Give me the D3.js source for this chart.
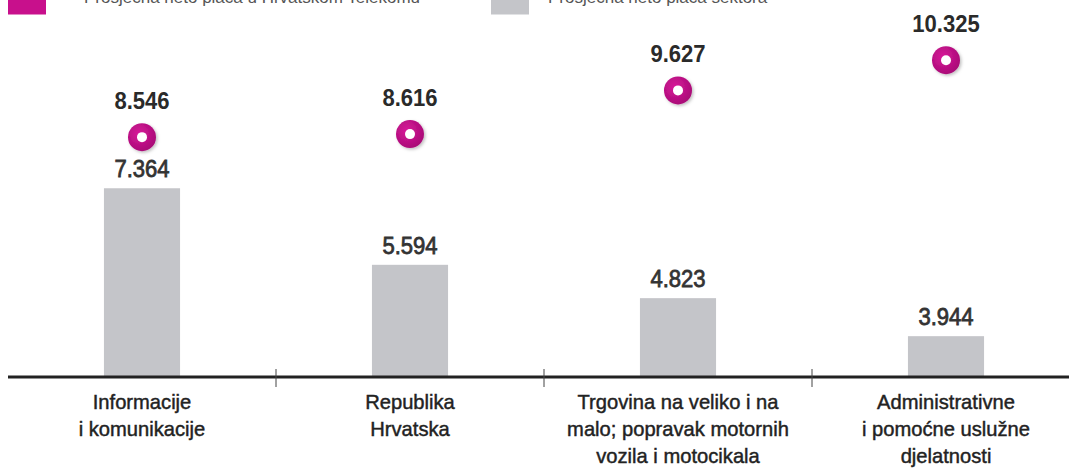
<!DOCTYPE html>
<html>
<head>
<meta charset="utf-8">
<script src="https://cdn.jsdelivr.net/npm/d3@7"></script>
<style>
  body { margin: 0; background: #fff; }
  svg { display: block; }
  text { font-family: "Liberation Sans", Arial, Helvetica, sans-serif; }
</style>
</head>
<body>
<div id="chart"></div>
<script>
var W = 1069, H = 468;

// data (thousands of HRK, shown with dot as thousands separator)
var categories = ["Informacije i komunikacije", "Republika Hrvatska", "Trgovina na veliko i na malo", "Administrativne i pomoćne uslužne djelatnosti"];
var categoryLines = [
  ["Informacije", "i  komunikacije"],
  ["Republika", "Hrvatska"],
  ["Trgovina na veliko i na", "malo; popravak motornih", "vozila i motocikala"],
  ["Administrativne", "i pomoćne uslužne", "djelatnosti"]
];
var htValues = [8.546, 8.616, 9.627, 10.325];
var sectorValues = [7.364, 5.594, 4.823, 3.944];
var legendLabels = ["Prosječna neto plaća u Hrvatskom Telekomu", "Prosječna neto plaća sektora"];

var magenta = "#c8108c", grey = "#c4c5c9";

var svg = d3.select("#chart").append("svg")
  .attr("width", W)
  .attr("height", H);

var defs = svg.append("defs");
var grad = defs.append("radialGradient")
  .attr("id", "ring")
  .attr("cx", "40%").attr("cy", "38%").attr("r", "65%");
grad.append("stop").attr("offset", "0%").attr("stop-color", "#d81a9a");
grad.append("stop").attr("offset", "100%").attr("stop-color", "#a80a76");
var shadow = defs.append("filter").attr("id", "shadow")
  .attr("x", "-40%").attr("y", "-40%").attr("width", "180%").attr("height", "180%");
shadow.append("feDropShadow")
  .attr("dx", 1.5).attr("dy", 1.5).attr("stdDeviation", 1.5)
  .attr("flood-color", "#000").attr("flood-opacity", 0.25);

// scales
var x = d3.scaleBand()
  .domain(categories)
  .range([8, 1080])
  .padding(0);

var y = d3.scaleLinear()
  .domain([3, 11])
  .range([377, 31]);

var barW = x.bandwidth() * 0.284;
var fmt = d3.format(".3f");
function cx(i) { return x(categories[i]) + x.bandwidth() / 2; }

// legend (cut off at top)
var legend = svg.append("g");
legend.append("rect").attr("x", 8).attr("y", -6).attr("width", 38).attr("height", 20.5).attr("fill", magenta);
legend.append("rect").attr("x", 491).attr("y", -6).attr("width", 38).attr("height", 20.5).attr("fill", grey);
legend.selectAll("text.leg")
  .data(legendLabels)
  .enter().append("text")
  .attr("class", "leg")
  .attr("x", function(d, i) { return i == 0 ? 84 : 548; })
  .attr("y", 3)
  .attr("font-size", "17px")
  .attr("fill", "#555")
  .text(function(d) { return d; });

// bars
svg.selectAll(".bar")
  .data(sectorValues)
  .enter().append("rect")
  .attr("class", "bar")
  .attr("x", function(d, i) { return cx(i) - barW / 2; })
  .attr("y", function(d) { return y(d); })
  .attr("width", barW)
  .attr("height", function(d) { return y.range()[0] - y(d); })
  .attr("fill", grey);

svg.selectAll(".barlabel")
  .data(sectorValues)
  .enter().append("g")
  .attr("class", "barlabel")
  .attr("transform", function(d, i) { return "translate(" + cx(i) + "," + (y(d) - 11) + ") scale(0.92,1)"; })
  .append("text")
  .attr("text-anchor", "middle")
  .attr("font-size", "24px")
  .attr("fill", "#333")
  .attr("stroke", "#333")
  .attr("stroke-width", 0.8);

svg.selectAll(".barlabel text")
  .text(function(d) { return fmt(d); });

// axis
svg.append("line")
  .attr("x1", x.range()[0]).attr("x2", W)
  .attr("y1", y.range()[0]).attr("y2", y.range()[0])
  .attr("stroke", "#222")
  .attr("stroke-width", 3);

svg.selectAll(".tick")
  .data(categories.slice(1))
  .enter().append("line")
  .attr("class", "tick")
  .attr("x1", function(d) { return x(d); })
  .attr("x2", function(d) { return x(d); })
  .attr("y1", y.range()[0] - 8)
  .attr("y2", y.range()[0] + 10)
  .attr("stroke", "#444")
  .attr("stroke-width", 1);

var cat = svg.selectAll(".cat")
  .data(categories)
  .enter().append("g")
  .attr("class", "cat")
  .attr("transform", function(d, i) { return "translate(" + cx(i) + ",0) scale(0.96,1)"; })
  .append("text")
  .attr("text-anchor", "middle")
  .attr("font-size", "21px")
  .attr("fill", "#222")
  .attr("stroke", "#222")
  .attr("stroke-width", 0.45);

cat.selectAll("tspan")
  .data(function(d, i) { return categoryLines[i]; })
  .enter().append("tspan")
  .attr("x", 0)
  .attr("y", function(d, j) { return 409 + j * 27; })
  .text(function(d) { return d; });

// dots
var dots = svg.selectAll(".dot")
  .data(htValues)
  .enter().append("g")
  .attr("class", "dot")
  .attr("transform", function(d, i) { return "translate(" + cx(i) + "," + y(d) + ")"; });

dots.append("circle")
  .attr("r", 14)
  .attr("fill", "url(#ring)")
  .attr("filter", "url(#shadow)");
dots.append("circle")
  .attr("r", 5)
  .attr("fill", "#fff");

svg.selectAll(".dotlabel")
  .data(htValues)
  .enter().append("g")
  .attr("class", "dotlabel")
  .attr("transform", function(d, i) { return "translate(" + cx(i) + "," + (y(d) - 28) + ") scale(0.92,1)"; })
  .append("text")
  .attr("text-anchor", "middle")
  .attr("font-size", "24px")
  .attr("font-weight", "bold")
  .attr("fill", "#2a2a2a")
  .text(function(d) { return fmt(d); });
</script>
</body>
</html>
